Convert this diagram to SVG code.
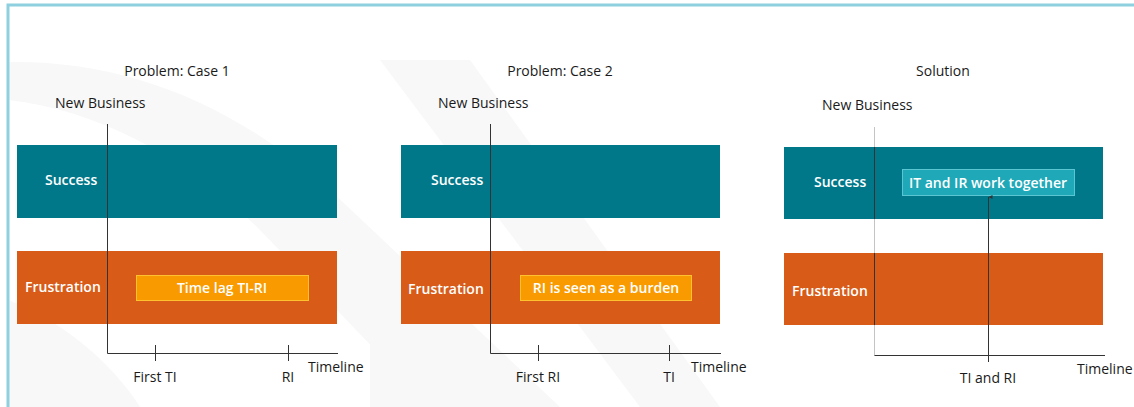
<svg xmlns="http://www.w3.org/2000/svg" width="1134" height="407" viewBox="0 0 1134 407">
  <style>
    .lbl { font-family: "Open Sans", "Noto Sans", "DejaVu Sans", sans-serif; font-size: 14px; fill: #1a1a1a; }
    .band-text { font-family: "Open Sans", "Noto Sans", "DejaVu Sans", sans-serif; font-size: 14px; font-weight: 600; fill: #ffffff; }
    .success { fill: #00788a; }
    .frustration { fill: #d85c17; }
    .note-orange { fill: #f99b00; stroke: #ffc22e; stroke-width: 1; }
    .note-teal { fill: #1fa8b7; stroke: #5ac6d2; stroke-width: 1; }
    .axis { stroke: #333333; stroke-width: 1; fill: none; }
    .faint { stroke: #c4c4c4; stroke-width: 1; fill: none; }
    .frame { stroke: #8fd0e0; stroke-width: 3; fill: none; }
  </style>
  <defs>
    <marker id="tip" viewBox="0 0 6 6" refX="3" refY="0" markerWidth="4" markerHeight="4" orient="auto-start-reverse" markerUnits="strokeWidth">
      <path d="M0 6 L3 0 L6 6 Z" fill="#333333"/>
    </marker>
  </defs>

  <rect x="0" y="0" width="1134" height="407" fill="#ffffff"/>

  <!-- faint background swooshes -->
  <g id="backdrop" fill="#f8f8f8">
    <path d="M8 62 C 120 60 230 100 330 190 L 560 407 L 430 407 L 260 230 C 190 160 100 110 8 100 Z"/>
    <path d="M8 300 C 60 320 110 360 140 407 L 8 407 Z"/>
    <path d="M380 60 L 470 60 L 720 407 L 640 407 Z"/>
    <path d="M370 300 L 440 407 L 370 407 Z"/>
  </g>

  <!-- outer frame -->
  <path class="frame" d="M8 407 L 8 5 L 1134 5"/>

  <!-- Panel 1: Problem: Case 1 -->
  <g id="panel-case1">
    <text class="lbl" x="177" y="76" text-anchor="middle">Problem: Case 1</text>
    <text class="lbl" x="55" y="108">New Business</text>
    <rect id="case1-success" class="success" x="17" y="145" width="320" height="73"/>
    <text class="band-text" x="45" y="185">Success</text>
    <rect id="case1-frustration" class="frustration" x="17" y="251" width="320" height="73"/>
    <text class="band-text" x="25" y="292">Frustration</text>
    <g id="case1-note">
      <rect class="note-orange" x="136.5" y="275.5" width="172" height="25"/>
      <text class="band-text" x="222" y="293" text-anchor="middle">Time lag TI-RI</text>
    </g>
    <text class="lbl" x="155" y="382" text-anchor="middle">First TI</text>
    <text class="lbl" x="288" y="382" text-anchor="middle">RI</text>
    <text class="lbl" x="308" y="372">Timeline</text>
  </g>

  <!-- Panel 2: Problem: Case 2 -->
  <g id="panel-case2">
    <text class="lbl" x="560" y="76" text-anchor="middle">Problem: Case 2</text>
    <text class="lbl" x="438" y="108">New Business</text>
    <rect id="case2-success" class="success" x="401" y="145" width="319" height="73"/>
    <text class="band-text" x="431" y="185">Success</text>
    <rect id="case2-frustration" class="frustration" x="401" y="251" width="319" height="73"/>
    <text class="band-text" x="408" y="294">Frustration</text>
    <g id="case2-note">
      <rect class="note-orange" x="520.5" y="275.5" width="171" height="25"/>
      <text class="band-text" x="606" y="293" text-anchor="middle">RI is seen as a burden</text>
    </g>
    <text class="lbl" x="538" y="382" text-anchor="middle">First RI</text>
    <text class="lbl" x="669" y="382" text-anchor="middle">TI</text>
    <text class="lbl" x="691" y="372">Timeline</text>
  </g>

  <!-- Panel 3: Solution -->
  <g id="panel-solution">
    <text class="lbl" x="943" y="76" text-anchor="middle">Solution</text>
    <text class="lbl" x="822" y="110">New Business</text>
    <rect id="solution-success" class="success" x="784" y="147" width="319" height="72"/>
    <text class="band-text" x="814" y="187">Success</text>
    <rect id="solution-frustration" class="frustration" x="784" y="253" width="319" height="72"/>
    <text class="band-text" x="792" y="296">Frustration</text>
    <g id="solution-note">
      <rect class="note-teal" x="902.5" y="169.5" width="172" height="26"/>
      <text class="band-text" x="988" y="188" text-anchor="middle">IT and IR work together</text>
    </g>
    <text class="lbl" x="988" y="383" text-anchor="middle">TI and RI</text>
    <text class="lbl" x="1077" y="374">Timeline</text>
  </g>

  <!-- axes and markers -->
  <g id="connectors">
    <path class="axis" d="M107.5 124 L 107.5 353.5 L 338 353.5"/>
    <path class="axis" d="M155.5 345 L 155.5 361 M288.5 345 L 288.5 361"/>
    <path class="axis" d="M490.5 124 L 490.5 353.5 L 721 353.5"/>
    <path class="axis" d="M538.5 345 L 538.5 361 M669.5 345 L 669.5 361"/>
    <!-- solution start line: pale on white, dark across the bands -->
    <path class="faint" d="M874.5 127 L 874.5 355.5"/>
    <path class="axis" d="M874.5 147 L 874.5 219 M874.5 253 L 874.5 325" stroke="#1a1a1a"/>
    <path class="axis" d="M874.5 355.5 L 1105 355.5"/>
    <path class="axis" d="M988.5 362 L 988.5 197" marker-end="url(#tip)"/>
  </g>
</svg>
